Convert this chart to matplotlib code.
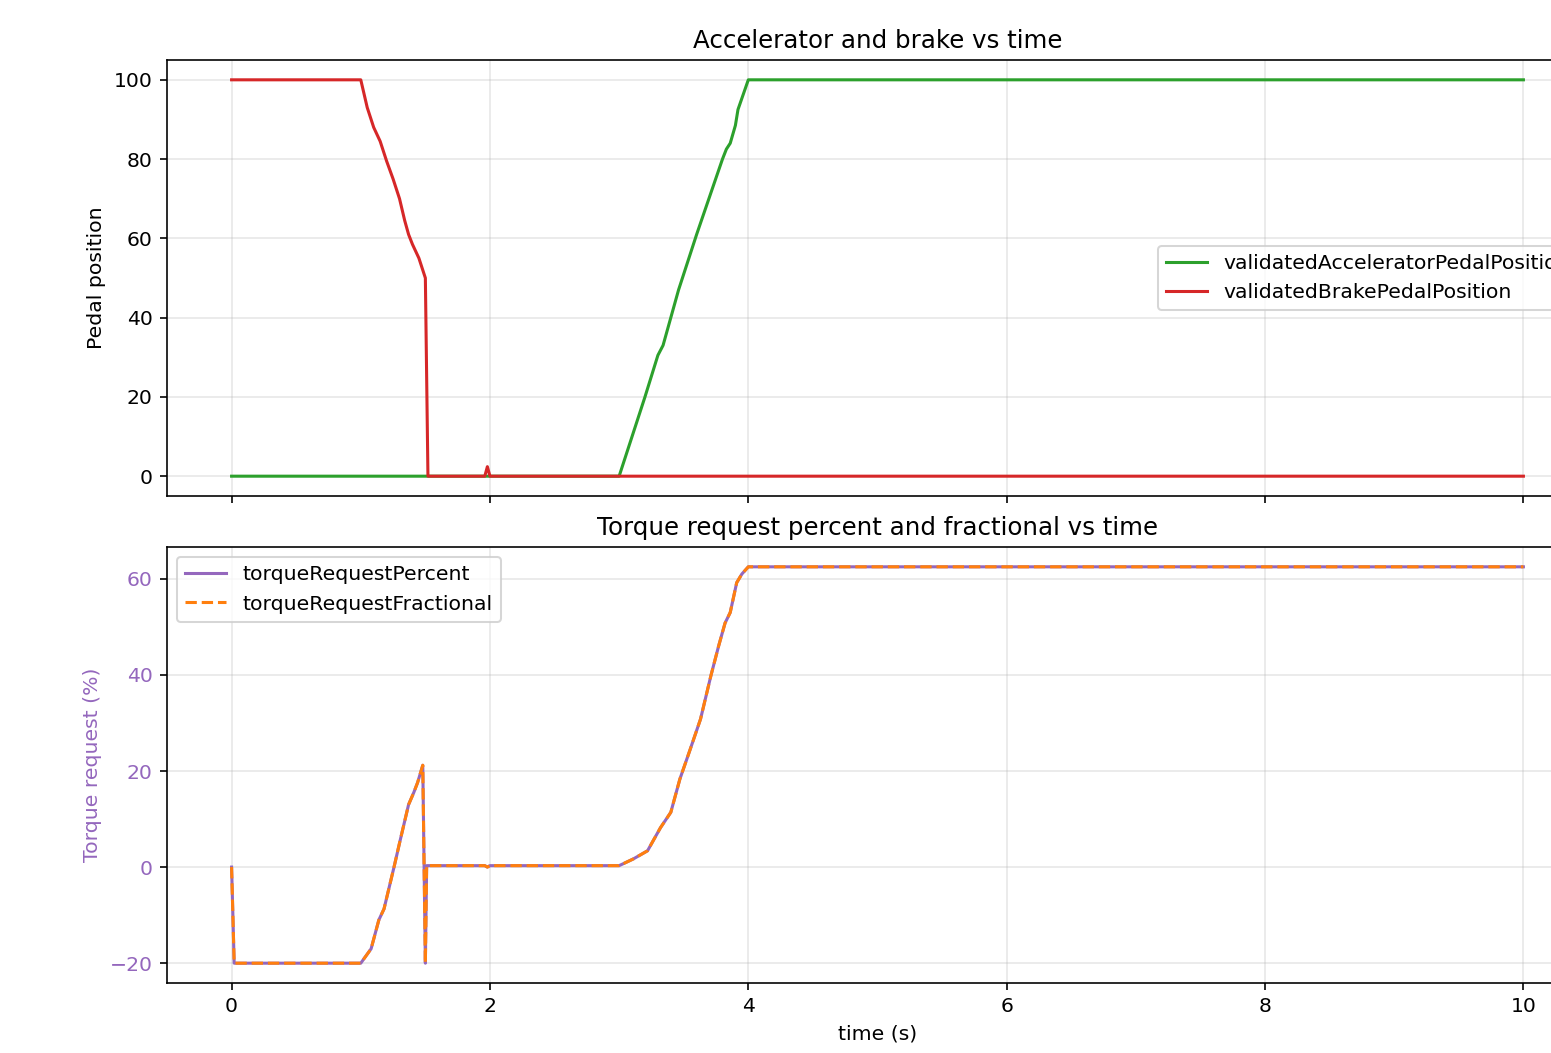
import matplotlib
matplotlib.use('Agg')
import matplotlib.pyplot as plt

# Pedal positions (%)
brake_t = [0, 1.00, 1.05, 1.10, 1.15, 1.20, 1.25, 1.30, 1.34, 1.37, 1.40, 1.45, 1.50, 1.52,
           1.96, 1.98, 2.00, 10]
brake_v = [100, 100, 93, 88, 84.5, 79.5, 75, 70, 64.5, 61, 58.5, 55, 50, 0,
           0, 2.4, 0, 0]

accel_t = [0, 3.00, 3.10, 3.20, 3.30, 3.34, 3.40, 3.46, 3.50, 3.60, 3.70, 3.80, 3.83,
           3.86, 3.90, 3.92, 4.00, 10]
accel_v = [0, 0, 10, 20, 30.5, 33, 40, 47, 51, 61, 70.5, 80, 82.5,
           84, 88.5, 92.5, 100, 100]

# Torque request (%)
torque_t = [0, 0.02, 1.00, 1.08, 1.14, 1.18, 1.26, 1.30, 1.37, 1.41, 1.44, 1.48, 1.50,
            1.51, 1.52, 1.96, 1.98, 2.00, 3.00, 3.11, 3.22, 3.32, 3.40, 3.47, 3.55, 3.63,
            3.71, 3.77, 3.82, 3.86, 3.91, 3.95, 4.00, 10]
torque_pct = [0, -20, -20, -17, -11, -8.7, 0.3, 5, 13, 15.5, 17.6, 21.2, -20,
              0.3, 0.3, 0.3, 0, 0.3, 0.3, 1.7, 3.4, 8.2, 11.4, 18.3, 24.5, 30.8,
              39.8, 46, 50.8, 53, 59.2, 61, 62.5, 62.5]
torque_frac = list(torque_pct)

DPI = 147
fig = plt.figure(figsize=(1551 / DPI, 1053 / DPI), dpi=DPI)
ax1 = fig.add_axes([167 / 1551, 1 - 496 / 1053, 1421 / 1551, 436 / 1053])
ax2 = fig.add_axes([167 / 1551, 1 - 983 / 1053, 1421 / 1551, 436 / 1053], sharex=ax1)

ax1.plot(accel_t, accel_v, color='tab:green', lw=1.5, label='validatedAcceleratorPedalPosition')
ax1.plot(brake_t, brake_v, color='tab:red', lw=1.5, label='validatedBrakePedalPosition')
ax1.set_ylabel('Pedal position')
ax1.set_title('Accelerator and brake vs time')
ax1.grid(True, alpha=0.3)
ax1.legend(loc='center right')
ax1.tick_params(labelbottom=False)

ax2.plot(torque_t, torque_pct, color='tab:purple', lw=1.5, label='torqueRequestPercent')
ax2.plot(torque_t, torque_frac, color='tab:orange', lw=1.5, ls='--', label='torqueRequestFractional')
ax2.set_ylabel('Torque request (%)', color='tab:purple')
ax2.tick_params(axis='y', labelcolor='tab:purple')
ax2.set_title('Torque request percent and fractional vs time')
ax2.set_xlabel('time (s)')
ax2.grid(True, alpha=0.3)
ax2.legend(loc='upper left')

ax1.set_xlim(-0.5, 10.5)

fig.savefig('out.png', dpi=DPI)
